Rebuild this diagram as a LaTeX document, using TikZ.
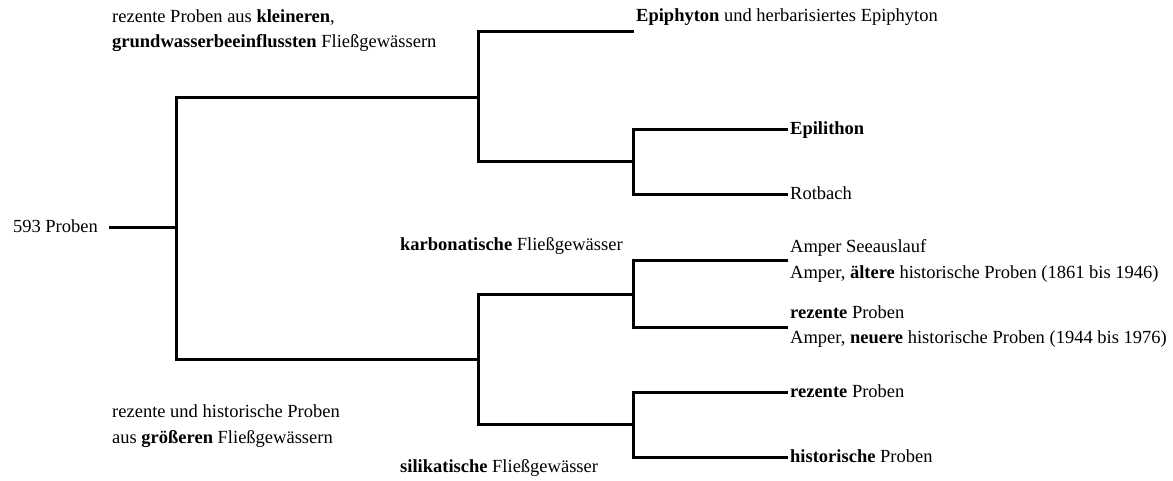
\documentclass[tikz,border=0pt]{standalone}
\usepackage{fontspec}
\setmainfont{Liberation Serif}
\begin{document}
\begin{tikzpicture}[x=1pt,y=-1pt,
  lbl/.style={inner sep=0pt, anchor=base west, font=\fontsize{18.5}{26}\selectfont},
  branch/.style={line width=3pt, line join=miter, line cap=butt}]
\useasboundingbox (0,0) rectangle (1173,481);

% labels
\node[lbl, anchor=base east] (root) at (98,233) {593 Proben};
\node[lbl] (upA) at (112,23) {rezente Proben aus \textbf{kleineren},};
\node[lbl] (upB) at (112,48) {\textbf{grundwasserbeeinflussten} Fließgewässern};
\node[lbl] (karb) at (400,251) {\textbf{karbonatische} Fließgewässer};
\node[lbl] (lowA) at (112,417) {rezente und historische Proben};
\node[lbl] (lowB) at (112,443) {aus \textbf{größeren} Fließgewässern};
\node[lbl] (sil) at (400,472) {\textbf{silikatische} Fließgewässer};
\node[lbl] (epi) at (636,22) {\textbf{Epiphyton} und herbarisiertes Epiphyton};
\node[lbl] (lith) at (790,135) {\textbf{Epilithon}};
\node[lbl] (rot) at (790,200) {Rotbach};
\node[lbl] (see) at (790,253) {Amper Seeauslauf};
\node[lbl] (alt) at (790,278) {Amper, \textbf{ältere} historische Proben (1861 bis 1946)};
\node[lbl] (rez1) at (790,318) {\textbf{rezente} Proben};
\node[lbl] (neu) at (790,343) {Amper, \textbf{neuere} historische Proben (1944 bis 1976)};
\node[lbl] (rez2) at (790,397) {\textbf{rezente} Proben};
\node[lbl] (hist) at (790,462) {\textbf{historische} Proben};

% junctions and leaf ends
\coordinate (rootEnd) at (109,228);
\coordinate (A) at (176,228);
\coordinate (B) at (478,98);
\coordinate (C) at (478,359);
\coordinate (D) at (633,162);
\coordinate (E) at (633,294);
\coordinate (F) at (633,424);
\coordinate (tEpi) at (634,32);
\coordinate (tLith) at (788,130);
\coordinate (tRot) at (788,195);
\coordinate (tE1) at (788,261);
\coordinate (tE2) at (788,327);
\coordinate (tF1) at (788,392);
\coordinate (tF2) at (788,457);

% connectors
\draw[branch] (rootEnd) -- (A);
\draw[branch] (B) -- (A |- B) -- (A |- C) -- (C);
\draw[branch] (tEpi) -- (B |- tEpi) -- (B |- D) -- (D);
\draw[branch] (tLith) -- (D |- tLith) -- (D |- tRot) -- (tRot);
\draw[branch] (E) -- (C |- E) -- (C |- F) -- (F);
\draw[branch] (tE1) -- (E |- tE1) -- (E |- tE2) -- (tE2);
\draw[branch] (tF1) -- (F |- tF1) -- (F |- tF2) -- (tF2);
\end{tikzpicture}
\end{document}
